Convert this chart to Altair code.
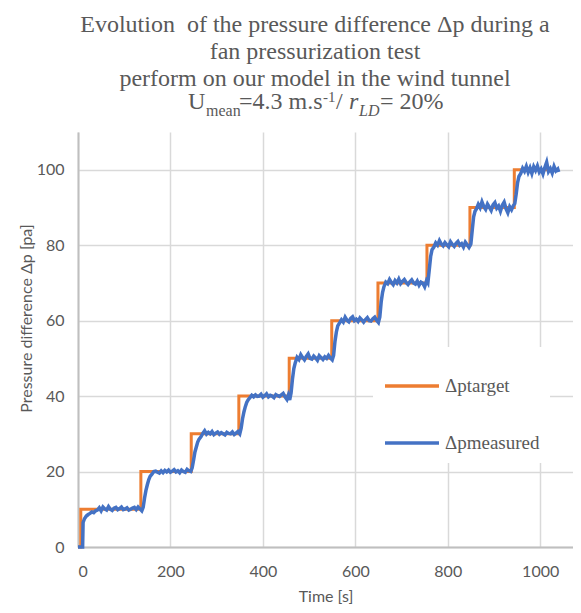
import altair as alt
import pandas as pd

# ---- data ----
target_time = [0, 6, 136, 245, 348, 457, 549, 649, 755, 848, 944, 1039]
target_p = [0, 10, 20, 30, 40, 50, 60, 70, 80, 90, 100, 100]

meas_time = [0, 4, 8, 10, 11, 14, 18, 22, 26, 30, 34, 38, 42, 46, 50, 54, 58, 62, 66, 70,
             74, 78, 82, 86, 90, 94, 98, 102, 106, 110, 114, 118, 122, 126, 130, 134, 138,
             141, 144, 147, 150, 153, 156, 160, 164, 168, 172, 176, 180, 184, 188, 192, 196,
             200, 204, 208, 212, 216, 220, 224, 228, 232, 236, 240, 244, 247, 250, 253, 256,
             259, 262, 266, 270, 274, 278, 282, 286, 290, 294, 298, 302, 306, 310, 314, 318,
             322, 326, 330, 334, 338, 342, 346, 350, 353, 356, 359, 362, 365, 368, 372, 376,
             380, 384, 388, 392, 396, 400, 404, 408, 412, 416, 420, 424, 428, 432, 436, 440,
             444, 448, 452, 455, 458, 461, 464, 467, 470, 474, 478, 482, 486, 490, 494, 498,
             502, 506, 510, 514, 518, 522, 526, 530, 534, 538, 542, 546, 550, 553, 556, 559,
             562, 566, 570, 574, 578, 582, 586, 590, 594, 598, 602, 606, 610, 614, 618, 622,
             626, 630, 634, 638, 642, 646, 650, 653, 656, 659, 662, 666, 670, 674, 678, 682,
             686, 690, 694, 698, 702, 706, 710, 714, 718, 722, 726, 730, 734, 738, 742, 746,
             750, 754, 757, 760, 763, 766, 770, 774, 778, 782, 786, 790, 794, 798, 802, 806,
             810, 814, 818, 822, 826, 830, 834, 838, 842, 846, 850, 853, 856, 859, 862, 866,
             870, 874, 878, 882, 886, 890, 894, 898, 902, 906, 910, 914, 918, 922, 926, 930,
             934, 938, 942, 945, 948, 951, 954, 958, 962, 966, 970, 974, 978, 982, 986, 990,
             994, 998, 1002, 1006, 1010, 1014, 1018, 1022, 1026, 1030, 1034, 1038, 1040]
meas_p = [0, 0, 0, 0, 6.5, 7.5, 8.2, 8.6, 8.9, 9.3, 9.1, 9.6, 9.8, 10.4, 9.6, 10.6, 10.1, 9.8, 10.7, 10.0,
          9.7, 10.3, 10.5, 9.9, 10.2, 10.6, 9.9, 10.1, 10.4, 9.8, 10.0, 10.3, 10.5, 9.9, 10.6, 10.1, 9.6,
          10.5, 13.0, 15.0, 16.5, 17.8, 18.7, 19.3, 20.0, 20.1, 19.8, 19.6, 20.2, 19.7, 20.3, 19.9, 20.4,
          19.8, 20.1, 20.5, 19.9, 20.2, 19.7, 20.4, 20.0, 19.8, 20.6, 20.2, 20.0, 21.0, 23.0, 25.2, 26.5,
          27.8, 28.6, 29.2, 30.1, 30.8, 29.9, 30.4, 30.0, 30.6, 29.8, 30.2, 30.5, 29.9, 30.3, 30.0, 29.7,
          30.4, 30.1, 30.0, 30.5, 29.8, 30.2, 30.6, 30.0, 31.5, 34.0, 35.8, 37.2, 38.3, 39.0, 39.6, 40.2,
          39.8, 40.3, 39.9, 40.0, 40.5, 39.7, 40.1, 40.6, 39.8, 40.2, 40.0, 39.6, 40.4, 40.1, 39.9, 40.3,
          40.7, 39.8, 39.1, 40.2, 39.0, 40.8, 44.5, 47.3, 48.8, 50.3, 49.7, 51.0, 50.2, 49.6, 50.5, 51.2,
          50.0, 49.8, 50.6, 50.1, 49.5, 50.7, 50.2, 49.7, 50.4, 50.0, 50.8, 50.1, 49.6, 50.8, 54.5, 57.0,
          58.6, 59.4, 60.2, 59.6, 60.9, 60.1, 59.7, 60.6, 61.0, 60.0, 60.4, 59.8, 60.7, 60.2, 59.6, 60.3,
          60.8, 60.0, 59.9, 60.5, 60.9, 60.1, 59.5, 61.0, 65.0, 67.5, 69.0, 70.2, 69.8, 70.9, 70.1, 69.5,
          70.6, 70.0, 71.0, 69.8, 70.4, 70.9, 70.1, 69.6, 70.3, 70.8, 70.0, 69.7, 70.5, 69.4, 70.2, 69.9,
          69.0, 70.6, 70.0, 73.5, 77.0, 78.8, 79.5, 80.6, 80.0, 81.2, 80.3, 79.8, 80.7, 80.1, 79.6, 80.9,
          80.2, 79.7, 80.5, 81.0, 80.0, 80.4, 79.5, 80.8, 80.1, 79.4, 80.3, 84.0, 87.5, 89.0, 89.6, 90.8,
          89.9, 91.5, 90.2, 89.5, 90.9, 90.1, 89.2, 90.7, 91.3, 89.8, 90.4, 89.0, 90.6, 91.4, 89.7, 88.6,
          90.2, 89.4, 90.5, 91.0, 93.5, 96.5, 98.2, 99.0, 100.4, 99.6, 100.9, 99.3, 100.5, 99.0, 100.8, 99.8,
          101.0, 99.4, 100.2, 98.9, 100.6, 102.0, 99.5, 100.3, 99.1, 100.9, 99.7, 100.2, 99.4]

series_names = ["\u0394ptarget", "\u0394pmeasured"]
series_colors = ["#ED7D31", "#4472C4"]
x_ticks = [0, 200, 400, 600, 800, 1000]
y_ticks = [0, 20, 40, 60, 80, 100]

target_df = pd.DataFrame({"t": target_time, "p": target_p, "series": series_names[0]})
meas_df = pd.DataFrame({"t": meas_time, "p": meas_p, "series": series_names[1]})

GRAY = "#595959"
SERIF = "Liberation Serif"
SANS = "Lato"

x_enc = alt.X("t:Q", scale=alt.Scale(domain=[0, 1071], nice=False, zero=False),
              axis=alt.Axis(values=x_ticks, title="Time [s]", grid=True, format="d"))
y_enc = alt.Y("p:Q", scale=alt.Scale(domain=[0, 110], nice=False),
              axis=alt.Axis(values=y_ticks, title="Pressure difference \u0394p [pa]", grid=True,
                            titleY=186))
color_enc = alt.Color("series:N",
                      scale=alt.Scale(domain=series_names, range=series_colors),
                      legend=alt.Legend(title=None, orient="none", legendX=295, legendY=215,
                                        fillColor="white", padding=10, symbolType="stroke",
                                        symbolSize=2916, symbolStrokeWidth=3.5,
                                        labelFont=SERIF, labelFontSize=19, labelColor=GRAY,
                                        rowPadding=18, labelOffset=4))

target_line = alt.Chart(target_df).mark_line(interpolate="step-after", strokeWidth=3).encode(
    x=x_enc, y=y_enc, color=color_enc)
meas_line = alt.Chart(meas_df).mark_line(strokeWidth=3.5).encode(
    x="t:Q", y="p:Q", color="series:N")


def txt(s, x, y, size=24, italic=False, align="center"):
    return alt.Chart(alt.Data(values=[{}])).mark_text(
        text=s, font=SERIF, fontSize=size, color=GRAY, align=align, baseline="alphabetic",
        fontStyle="italic" if italic else "normal").encode(x=alt.value(x), y=alt.value(y))


titles = [
    txt("Evolution\u00a0 of the pressure difference \u0394p during a", 237, -100),
    txt("fan pressurization test", 237, -73),
    txt("perform on our model in the wind tunnel", 237, -46),
    txt("U", 110, -23, align="left"),
    txt("mean", 128, -16, size=16, align="left"),
    txt("=4.3 m.s", 161, -23, align="left"),
    txt("-1", 245, -30, size=15, align="left"),
    txt("/", 258, -23, align="left"),
    txt("r", 271, -23, italic=True, align="left"),
    txt("LD", 281, -16, size=16, italic=True, align="left"),
    txt("= 20%", 302, -23, align="left"),
]

chart = alt.layer(target_line, meas_line, *titles).properties(
    width=495, height=415,
    autosize=alt.AutoSizeParams(type="none"),
    padding={"left": 70, "top": 124, "right": 0, "bottom": 58},
).configure_view(stroke=None).configure_axis(
    labelFont=SANS, labelFontSize=16, labelColor=GRAY,
    titleFont=SANS, titleFontSize=16, titleColor=GRAY, titleFontWeight="normal",
    domainColor="#bfbfbf", domainWidth=2, gridColor="#d9d9d9", gridWidth=1.5,
    ticks=False,
).configure_axisY(labelPadding=14, titlePadding=2).configure_axisX(
    labelPadding=16, titlePadding=9)

chart.save("out.html", embed_options={"renderer": "svg", "actions": False})
